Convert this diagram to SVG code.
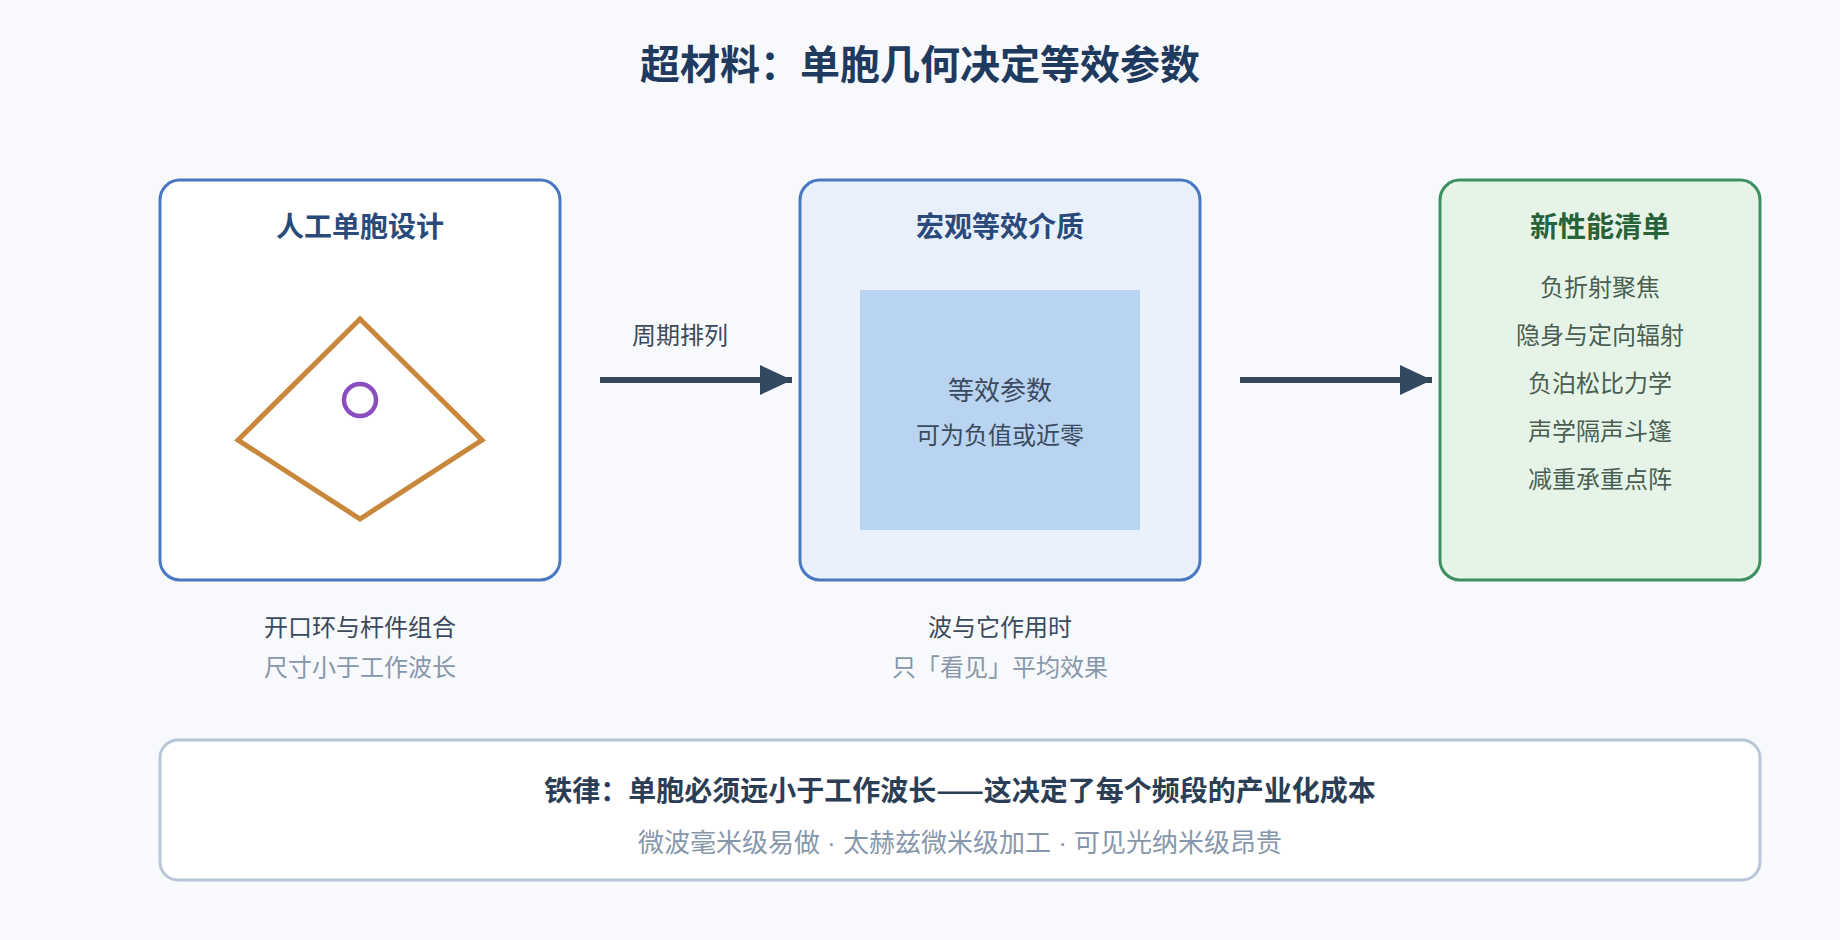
<svg xmlns="http://www.w3.org/2000/svg" width="1840" height="940" viewBox="0 0 1840 940">
<style>
text{font-family:"Noto Sans CJK SC","Noto Sans",sans-serif;text-anchor:middle}
.title{font-size:40px;font-weight:700;fill:#1f3a5f}
.btitle{font-size:28px;font-weight:700;fill:#2a4a7c}
.gtitle{font-size:28px;font-weight:700;fill:#276238}
.item{font-size:24px;fill:#4a5f52}
.lbl{font-size:24px;fill:#3b4a5c}
.sub{font-size:24px;fill:#8797ab}
.inner{fill:#3b4a5e}
.box{stroke-width:3}
.arrow{stroke:#34495e;stroke-width:6;fill:none}
</style>
<defs>
<marker id="ah" markerUnits="userSpaceOnUse" markerWidth="34" markerHeight="30" refX="32" refY="15" orient="auto">
<path d="M0,0 L32,15 L0,30 Z" fill="#34495e"/>
</marker>
</defs>
<rect width="1840" height="940" fill="#f7f9fc"/>
<text class="title" x="920" y="79">超材料：单胞几何决定等效参数</text>

<g id="node-unit-cell">
<rect class="box" x="160" y="180" width="400" height="400" rx="20" fill="#ffffff" stroke="#4a78c0"/>
<text class="btitle" x="360" y="237">人工单胞设计</text>
<polygon points="360,319 238,440 360,519 482,440" fill="none" stroke="#c8873a" stroke-width="5" stroke-linejoin="miter"/>
<circle cx="360" cy="400" r="16" fill="none" stroke="#8a4fbf" stroke-width="4.5"/>
<text class="lbl" x="360" y="636">开口环与杆件组合</text>
<text class="sub" x="360" y="676">尺寸小于工作波长</text>
</g>

<g id="node-medium">
<rect class="box" x="800" y="180" width="400" height="400" rx="20" fill="#e8f0fc" stroke="#4a78c0"/>
<text class="btitle" x="1000" y="237">宏观等效介质</text>
<rect x="860" y="290" width="280" height="240" fill="#b8d4f0"/>
<text class="inner" x="1000" y="400" font-size="26">等效参数</text>
<text class="inner" x="1000" y="444" font-size="24">可为负值或近零</text>
<text class="lbl" x="1000" y="636">波与它作用时</text>
<text class="sub" x="1000" y="676">只「看见」平均效果</text>
</g>

<g id="node-performance">
<rect class="box" x="1440" y="180" width="320" height="400" rx="20" fill="#e6f4e8" stroke="#3d8f5f"/>
<text class="gtitle" x="1600" y="237">新性能清单</text>
<text class="item" x="1600" y="296">负折射聚焦</text>
<text class="item" x="1600" y="344">隐身与定向辐射</text>
<text class="item" x="1600" y="392">负泊松比力学</text>
<text class="item" x="1600" y="440">声学隔声斗篷</text>
<text class="item" x="1600" y="488">减重承重点阵</text>
</g>

<g id="connectors">
<line class="arrow" x1="600" y1="380" x2="792" y2="380" marker-end="url(#ah)"/>
<text class="lbl" x="680" y="344">周期排列</text>
<line class="arrow" x1="1240" y1="380" x2="1432" y2="380" marker-end="url(#ah)"/>
</g>

<g id="node-rule">
<rect x="160" y="740" width="1600" height="140" rx="18" fill="#ffffff" stroke="#b8c6d8" stroke-width="3"/>
<text x="960" y="801" font-size="28" font-weight="700" fill="#2c3e55">铁律：单胞必须远小于工作波长——这决定了每个频段的产业化成本</text>
<text x="960" y="852" font-size="26" fill="#8797ab" style="font-family:'Liberation Sans','Noto Sans CJK SC',sans-serif">微波毫米级易做 · 太赫兹微米级加工 · 可见光纳米级昂贵</text>
</g>
</svg>
